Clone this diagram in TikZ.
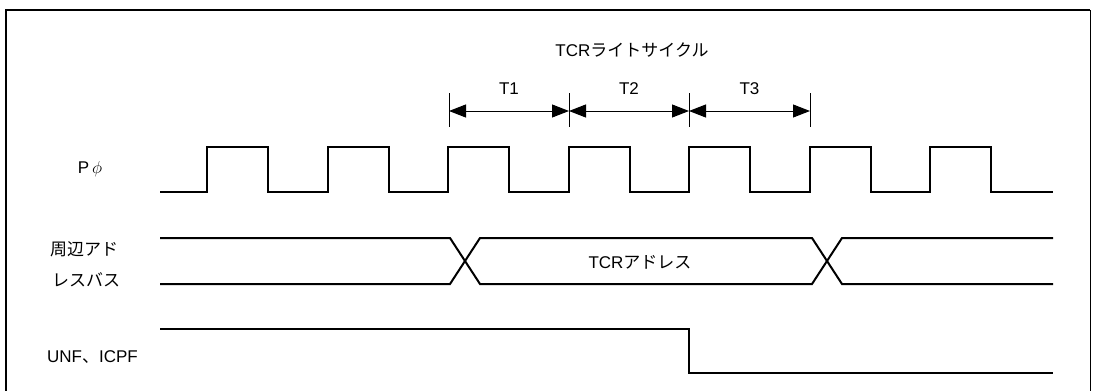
\documentclass[tikz,border=0pt]{standalone}
\usepackage{fontspec}
\setmainfont{Liberation Sans}
\newfontfamily\jpfont{Noto Sans CJK JP}
\usetikzlibrary{arrows.meta}
\tikzset{
	signal/.style={line width=2pt, line join=miter},
	lbl/.style={font=\fontsize{17}{20}\selectfont, inner sep=0pt},
	dimline/.style={line width=1pt, {Triangle[length=17pt,width=13pt]}-{Triangle[length=17pt,width=13pt]}},
}
\begin{document}
\begin{tikzpicture}[x=1pt,y=-1pt]
	\useasboundingbox (0,0) rectangle (1093,391);
	% frame
	\draw[line width=2pt] (6,395) -- (6,10) -- (1090,10);
	\draw[line width=0.8pt] (1090,10) -- (1090,395);
	% labels
	\node[lbl] (title) at (632,50) {TCR{\jpfont ライトサイクル}};
	\node[lbl] (clk) at (90,169) {P\,$\phi$};
	\node[lbl, anchor=west] (bus1) at (50,249) {\jpfont 周辺アド};
	\node[lbl, anchor=west] (bus2) at (52,280) {\jpfont レスバス};
	\node[lbl, anchor=west] (flag) at (47,357) {UNF{\jpfont 、}ICPF};
	\node[lbl] (addr) at (640,262) {TCR{\jpfont アドレス}};
	% cycle marks
	\foreach \n/\x in {a/449,b/569,c/689,d/810} {
		\coordinate (\n) at (\x,111);
		\draw[line width=1pt] (\x,93) -- (\x,127);
	}
	\draw[dimline] (a) -- (b) node[lbl, midway, above=16pt] (t1) {T1};
	\draw[dimline] (b) -- (c) node[lbl, midway, above=16pt] (t2) {T2};
	\draw[dimline] (c) -- (d) node[lbl, midway, above=16pt] (t3) {T3};
	% clock
	\draw[signal] (160,192)
		foreach \i in {0,...,6} {
			-- ({207+120.5*\i},192) -- ({207+120.5*\i},147)
			-- ({268+120.5*\i},147) -- ({268+120.5*\i},192)
		} -- (1053,192);
	% address bus
	\draw[signal] (160,238) -- (450,238) -- (480,284) -- (812,284) -- (842,238) -- (1053,238);
	\draw[signal] (160,284) -- (450,284) -- (480,238) -- (812,238) -- (842,284) -- (1053,284);
	% UNF, ICPF
	\draw[signal] (160,329) -- (689,329) -- (689,373) -- (1053,373);
\end{tikzpicture}
\end{document}
